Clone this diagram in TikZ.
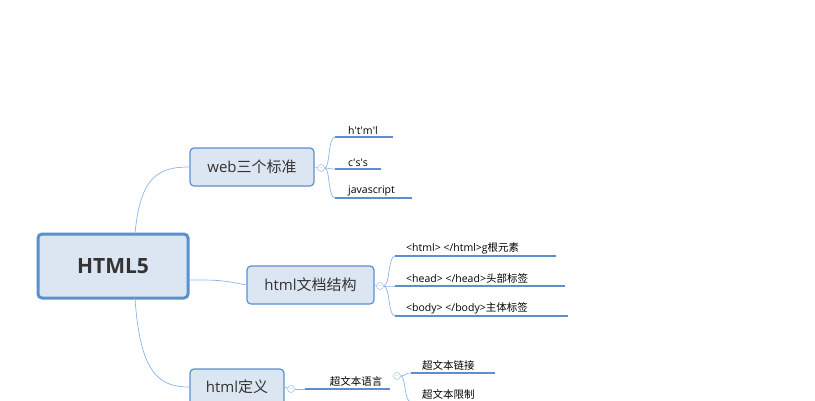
\documentclass[tikz,border=0pt]{standalone}
\usepackage{fontspec}
\setmainfont{Open Sans}
\newfontfamily\cjk{Noto Sans CJK SC}
\definecolor{boxfill}{HTML}{DCE6F2}
\definecolor{boxline}{HTML}{5B8FD0}
\definecolor{branch}{HTML}{8EB4E3}
\begin{document}
\begin{tikzpicture}[x=1pt,y=-1pt,
    topic/.style={draw=boxline,fill=boxfill,rounded corners=4pt,line width=1.2pt,
        inner sep=0pt,align=center,text=black!80},
    leaf/.style={anchor=south west,inner sep=2pt,xshift=9pt,font=\fontsize{10.5}{12}\selectfont},
    uline/.style={boxline,line width=1.6pt},
    twig/.style={branch,line width=0.7pt},
    fold/.style={draw=branch,fill=white,circle,minimum size=7pt,inner sep=0pt,
        label={[inner sep=0pt,text=branch,font=\tiny]center:$-$}}]
\useasboundingbox (0,0) rectangle (815,400);
\clip (0,0) rectangle (815,400);
% topics
\node[topic,line width=3pt,minimum width=150pt,minimum height=64pt,
    font=\bfseries\fontsize{21}{22}\selectfont] (root) at (113,266) {HTML5};
\node[topic,minimum width=124pt,minimum height=38pt,font=\fontsize{15}{16}\selectfont]
    (web) at (252,167) {web{\cjk 三个标准}};
\node[topic,minimum width=127pt,minimum height=38pt,font=\fontsize{15}{16}\selectfont]
    (doc) at (310.5,285) {html{\cjk 文档结构}};
\node[topic,minimum width=94pt,minimum height=36pt,font=\fontsize{15}{16}\selectfont]
    (def) at (237,387) {html{\cjk 定义}};
\draw[twig] (135,234) .. controls (140,175) and (160,167) .. (web.west);
\draw[twig] (root.east|-0,280) .. controls (220,280) .. (doc.west);
\draw[twig] (135,298) .. controls (140,375) and (160,387) .. (def.west);
% web
\node[fold] (f1) at (321,168) {};
\draw[twig] (web.east) -- (f1);
\foreach \y/\w/\t [count=\i] in {137/393/h\textquotesingle t\textquotesingle m\textquotesingle l,169/381/c\textquotesingle s\textquotesingle s,198/412/javascript}{
  \coordinate (a\i) at (335,\y);
  \draw[uline] (a\i) -- (\w,\y);
  \node[leaf,xshift=2pt] (t\i) at (a\i) {\t};
  \draw[twig] (f1.east) .. controls (330,168) and (328,\y) .. (a\i);
}
% doc
\node[fold] (f2) at (380,286) {};
\draw[twig] (doc.east) -- (f2);
\foreach \y/\w/\t [count=\i] in {256/556/{<html> </html>g{\cjk 根元素}},286/565/{<head> </head>{\cjk 头部标签}},316/568/{<body> </body>{\cjk 主体标签}}}{
  \coordinate (b\i) at (395,\y);
  \draw[uline] (b\i) -- (\w,\y);
  \node[leaf] (s\i) at (b\i) {\t};
  \draw[twig] (f2.east) .. controls (390,286) and (388,\y) .. (b\i);
}
% def
\node[fold] (f3) at (291,389) {};
\draw[twig] (def.east) -- (f3);
\coordinate (c0) at (305,389);
\draw[uline] (c0) -- (390,389);
\node[leaf,anchor=south,xshift=0pt] (lang) at (347,389) {\cjk 超文本语言};
\draw[twig] (f3.east) -- (c0);
\node[fold] (f4) at (397,376) {};
\foreach \y/\w/\t [count=\i] in {373/495/超文本链接,402/495/超文本限制}{
  \coordinate (d\i) at (411,\y);
  \draw[uline] (d\i) -- (\w,\y);
  \node[leaf] (u\i) at (d\i) {\cjk\t};
  \draw[twig] (f4.east) .. controls (406,376) and (404,\y) .. (d\i);
}
\end{tikzpicture}
\end{document}
